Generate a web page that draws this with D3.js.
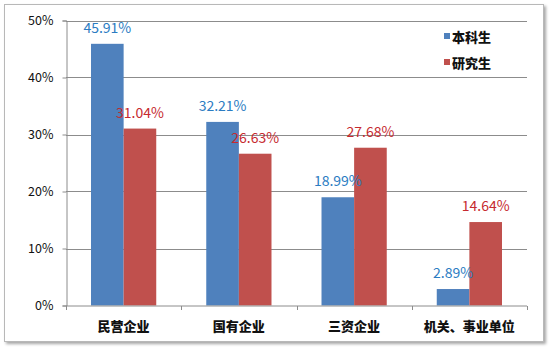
<!DOCTYPE html>
<html>
<head>
<meta charset="utf-8">
<script src="https://cdn.jsdelivr.net/npm/d3@7"></script>
<style>
  body { margin: 0; background: #fff; }
  svg { display: block; font-family: "Noto Sans CJK SC", "Noto Sans", sans-serif; }
</style>
</head>
<body>
<div id="chart"></div>
<script>
const categories = ["民营企业", "国有企业", "三资企业", "机关、事业单位"];
const seriesNames = ["本科生", "研究生"];
const undergrad = [45.91, 32.21, 18.99, 2.89];
const graduate = [31.04, 26.63, 27.68, 14.64];
const yTicks = [0, 10, 20, 30, 40, 50];

const barColors = ["#4f81bd", "#c0504d"];
const labelColors = ["#2b7cc2", "#c62a2f"];

const width = 555, height = 351;
const plot = {left: 66, right: 527, top: 20.5, bottom: 305.5};

const svg = d3.select("#chart").append("svg")
  .attr("width", width)
  .attr("height", height);

// frame with soft shadow
const defs = svg.append("defs");
const f = defs.append("filter").attr("id", "shadow")
  .attr("x", "-5%").attr("y", "-5%").attr("width", "110%").attr("height", "110%");
f.append("feDropShadow").attr("dx", 2).attr("dy", 2).attr("stdDeviation", 1.5)
  .attr("flood-color", "#000").attr("flood-opacity", 0.35);

svg.append("rect")
  .attr("x", 4.5).attr("y", 4.5)
  .attr("width", 539).attr("height", 337)
  .attr("fill", "#fff")
  .attr("stroke", "#b8b8b8")
  .attr("filter", "url(#shadow)");

const x0 = d3.scaleBand()
  .domain(categories)
  .range([plot.left, plot.right])
  .paddingInner(0)
  .paddingOuter(0);

const inner = 0.217;
const x1 = d3.scaleBand()
  .domain(seriesNames)
  .range([x0.bandwidth() * inner, x0.bandwidth() * (1 - inner)]);

const y = d3.scaleLinear()
  .domain([0, 50])
  .range([plot.bottom, plot.top]);

// gridlines
svg.append("g")
  .selectAll("line")
  .data(yTicks.filter(d => d > 0))
  .join("line")
  .attr("x1", plot.left).attr("x2", plot.right)
  .attr("y1", d => Math.round(y(d)) + 0.5)
  .attr("y2", d => Math.round(y(d)) + 0.5)
  .attr("stroke", "#8c8c8c");

// y axis
const yAxis = svg.append("g")
  .attr("transform", "translate(" + (plot.left + 0.5) + ",0)")
  .call(d3.axisLeft(y).tickValues(yTicks).tickFormat(d => d + "%").tickSize(4).tickPadding(9));
yAxis.select(".domain").attr("stroke", "#8c8c8c");
yAxis.selectAll(".tick line").attr("stroke", "#8c8c8c");
yAxis.selectAll(".tick text")
  .attr("fill", "#111")
  .attr("font-size", "12.5px")
  .attr("font-family", "'Noto Sans CJK SC', sans-serif");

// bars
const series = [undergrad, graduate];
const groups = svg.append("g").selectAll("g")
  .data(categories)
  .join("g")
  .attr("transform", d => "translate(" + x0(d) + ",0)");

seriesNames.forEach((name, si) => {
  groups.append("rect")
    .attr("x", (d, i) => x1(name))
    .attr("y", (d, i) => y(series[si][i]))
    .attr("width", x1.bandwidth())
    .attr("height", (d, i) => y(0) - y(series[si][i]))
    .attr("fill", barColors[si]);
});

// x axis
const xAxis = svg.append("g")
  .attr("transform", "translate(0," + (plot.bottom + 0.5) + ")");
xAxis.append("line")
  .attr("x1", plot.left).attr("x2", plot.right)
  .attr("stroke", "#8c8c8c");
xAxis.selectAll(".sep")
  .data(d3.range(categories.length + 1))
  .join("line")
  .attr("class", "sep")
  .attr("x1", i => Math.round(plot.left + i * x0.step()) + 0.5)
  .attr("x2", i => Math.round(plot.left + i * x0.step()) + 0.5)
  .attr("y1", 0).attr("y2", 4)
  .attr("stroke", "#8c8c8c");
xAxis.selectAll(".cat")
  .data(categories)
  .join("text")
  .attr("class", "cat")
  .attr("x", d => x0(d) + x0.bandwidth() / 2)
  .attr("y", 25)
  .attr("text-anchor", "middle")
  .attr("font-size", "13px")
  .attr("font-weight", "900")
  .attr("fill", "#111")
  .text(d => d);

// data labels
seriesNames.forEach((name, si) => {
  groups.append("text")
    .attr("x", (d, i) => x1(name) + x1.bandwidth() / 2)
    .attr("y", (d, i) => y(series[si][i]) - 11)
    .attr("text-anchor", "middle")
    .attr("font-size", "14px")
    .attr("fill", labelColors[si])
    .text((d, i) => series[si][i].toFixed(2) + "%");
});

// legend
const legend = svg.append("g").attr("transform", "translate(444,0)");
seriesNames.forEach((name, i) => {
  const ly = 37 + i * 26;
  legend.append("rect")
    .attr("x", 0).attr("y", ly - 4)
    .attr("width", 6).attr("height", 6)
    .attr("fill", barColors[i]);
  legend.append("text")
    .attr("x", 8).attr("y", ly + 4.5)
    .attr("font-size", "13px")
    .attr("font-weight", "900")
    .attr("fill", "#111")
    .text(name);
});
</script>
</body>
</html>
